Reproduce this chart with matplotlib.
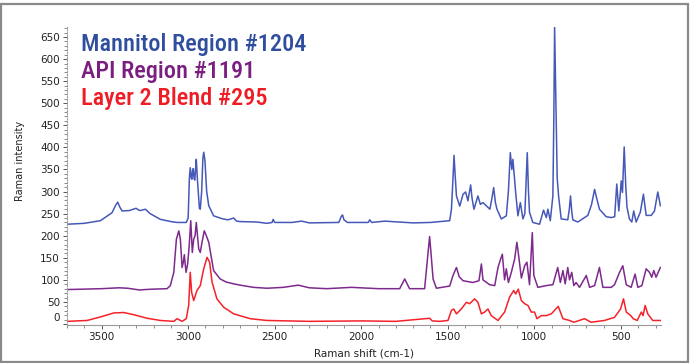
import matplotlib
matplotlib.use("Agg")
import matplotlib.pyplot as plt
from matplotlib import font_manager
from matplotlib.patches import Rectangle
from matplotlib.transforms import ScaledTranslation
from matplotlib.ticker import MultipleLocator

# Mannitol region spectrum (Raman shift cm-1, intensity)
mannitol_shift = [3700, 3600, 3507, 3440, 3420, 3407, 3395, 3382, 3340, 3301, 3285, 3276, 3247, 3220,
                  3160, 3100, 3064, 3011, 3000, 2993, 2988, 2982, 2978, 2974, 2970, 2966, 2962, 2957,
                  2953, 2947, 2935, 2930, 2922, 2915, 2910, 2903, 2893, 2881, 2853, 2800, 2770, 2737,
                  2720, 2700, 2603, 2545, 2515, 2509, 2500, 2400, 2345, 2300, 2130, 2115, 2108, 2100,
                  2080, 1960, 1951, 1940, 1864, 1700, 1600, 1489, 1479, 1470, 1464, 1458, 1450, 1431,
                  1412, 1397, 1390, 1384, 1368, 1360, 1349, 1326, 1312, 1297, 1268, 1257, 1245, 1235,
                  1225, 1216, 1191, 1162, 1150, 1139, 1130, 1124, 1115, 1108, 1095, 1081, 1066, 1055,
                  1048, 1041, 1034, 1028, 1009, 970, 947, 931, 922, 908, 893, 888, 883, 878, 874, 868,
                  860, 845, 807, 798, 791, 784, 778, 749, 691, 670, 652, 640, 624, 585, 556, 536, 524,
                  512, 498, 491, 481, 472, 465, 451, 437, 426, 412, 388, 370, 354, 325, 306, 287, 272]
mannitol_int = [226, 228, 234, 252, 268, 276, 265, 256, 257, 262, 258, 257, 260, 250,
                237, 232, 230, 230, 240, 330, 354, 330, 328, 350, 352, 330, 326, 350,
                373, 330, 262, 260, 300, 375, 389, 370, 300, 268, 245, 238, 236, 240,
                233, 232, 231, 228, 230, 237, 230, 230, 233, 229, 230, 244, 247, 236,
                230, 230, 236, 230, 233, 229, 230, 234, 260, 330, 382, 340, 290, 267,
                294, 299, 288, 279, 315, 285, 260, 290, 271, 275, 264, 260, 285, 309,
                275, 260, 238, 245, 300, 388, 350, 373, 330, 298, 245, 275, 238, 250,
                320, 388, 300, 253, 230, 226, 258, 241, 260, 234, 290, 450, 672, 560, 463, 330,
                290, 238, 236, 260, 290, 255, 236, 231, 246, 270, 305, 285, 260, 243, 241, 243, 317,
                256, 324, 298, 401, 313, 265, 238, 231, 256, 231, 253, 294, 246, 246, 256, 299, 268]

# API region spectrum
api_shift = [3700, 3600, 3500, 3400, 3350, 3280, 3250, 3200, 3122, 3103, 3083, 3068, 3054, 3045,
             3035, 3028, 3022, 3017, 3012, 3003, 2994, 2985, 2976, 2968, 2960, 2953, 2946, 2939,
             2930, 2920, 2907, 2895, 2881, 2853, 2815, 2780, 2737, 2700, 2622, 2545, 2450, 2364,
             2300, 2200, 2056, 1900, 1778, 1749, 1721, 1634, 1614, 1605, 1597, 1585, 1566, 1489,
             1470, 1450, 1434, 1412, 1355, 1320, 1306, 1297, 1258, 1229, 1210, 1195, 1185, 1172,
             1162, 1150, 1133, 1114, 1101, 1093, 1075, 1056, 1043, 1028, 1012, 1003, 980, 931,
             893, 865, 850, 835, 822, 807, 797, 784, 772, 759, 739, 700, 681, 652, 624, 604, 556,
             537, 508, 489, 469, 441, 418, 402, 379, 354, 335, 322, 310, 297, 272]
api_int = [78, 79, 80, 82, 81, 77, 78, 79, 80, 87, 117, 192, 211, 192,
           128, 140, 157, 135, 117, 136, 177, 234, 162, 192, 200, 230, 200, 170,
           162, 185, 211, 200, 185, 121, 102, 95, 91, 88, 83, 81, 83, 88,
           82, 80, 83, 80, 80, 102, 80, 80, 162, 198, 160, 102, 81, 86,
           110, 128, 107, 98, 94, 98, 136, 100, 89, 87, 128, 147, 158, 100,
           125, 94, 117, 147, 185, 162, 104, 132, 140, 89, 207, 110, 83, 87,
           89, 128, 94, 121, 91, 128, 100, 117, 87, 94, 83, 110, 83, 87, 128, 83, 83,
           89, 117, 132, 89, 83, 113, 83, 87, 125, 117, 106, 121, 106, 128]

# Layer 2 blend spectrum
blend_shift = [3700, 3584, 3507, 3430, 3372, 3314, 3237, 3160, 3083, 3064, 3035, 3011, 2997, 2988,
               2980, 2968, 2949, 2930, 2910, 2891, 2876, 2862, 2834, 2795, 2737, 2641, 2545, 2300,
               2000, 1800, 1605, 1590, 1547, 1499, 1479, 1466, 1450, 1422, 1393, 1374, 1345, 1326,
               1306, 1287, 1268, 1249, 1210, 1172, 1143, 1119, 1108, 1093, 1075, 1056, 1037, 1018,
               999, 985, 960, 931, 902, 862, 835, 797, 772, 710, 672, 595, 537, 502, 485, 469, 443,
               429, 406, 382, 372, 360, 345, 316, 272]
blend_int = [6, 8, 16, 25, 26, 21, 13, 8, 6, 12, 6, 12, 42, 117,
             72, 53, 76, 87, 125, 151, 140, 95, 57, 38, 23, 12, 8, 6,
             7, 6, 13, 7, 6, 8, 31, 34, 23, 34, 49, 46, 57, 49,
             23, 27, 34, 19, 8, 27, 61, 76, 68, 79, 53, 46, 42, 27,
             27, 12, 19, 19, 23, 40, 12, 8, 4, 12, 4, 8, 15, 34, 57, 27, 19,
             12, 8, 27, 19, 42, 23, 8, 8]

series_names = ["Mannitol Region #1204", "API Region #1191", "Layer 2 Blend #295"]
line_colors = ["#4658b8", "#7d2a8c", "#f5222a"]
text_colors = ["#2f4e9e", "#7a1f80", "#ee1c25"]

# pick a condensed face for the big labels if one is installed
names = {f.name for f in font_manager.fontManager.ttflist}
condensed = [n for n in ["Liberation Sans Narrow", "Roboto Condensed", "Open Sans Condensed",
                         "Noto Sans Display", "DejaVu Sans"] if n in names]

fig = plt.figure(figsize=(6.92, 3.63), dpi=100)
ax = fig.add_axes([0.0968, 0.105, 0.858, 0.821])

ax.plot(mannitol_shift, mannitol_int, color=line_colors[0], lw=1.1)
ax.plot(api_shift, api_int, color=line_colors[1], lw=1.1)
ax.plot(blend_shift, blend_int, color=line_colors[2], lw=1.1)

ax.set_xlim(3700, 270)
ax.set_ylim(-2, 673)
ax.xaxis.set_major_locator(MultipleLocator(500))
ax.xaxis.set_minor_locator(MultipleLocator(100))
ax.yaxis.set_major_locator(MultipleLocator(50))
ax.yaxis.set_minor_locator(MultipleLocator(10))

for s in ["top", "right"]:
    ax.spines[s].set_visible(False)
ax.spines["left"].set_color("#9a9a9a")
ax.spines["left"].set_linestyle((0, (1, 1.5)))
ax.spines["left"].set_linewidth(0.8)
ax.spines["bottom"].set_color("#9a9a9a")
ax.spines["bottom"].set_linewidth(0.8)

ax.tick_params(axis="both", which="major", labelsize=7.5, colors="#555555",
               labelcolor="#222222", length=3, width=0.7, pad=2)
ax.tick_params(axis="both", which="minor", colors="#777777", length=2, width=0.6)

# lift the "0" label a bit, as in the reference
zero_label = ax.yaxis.get_major_ticks()[1].label1
zero_label.set_transform(zero_label.get_transform()
                         + ScaledTranslation(0, 5 / 72, fig.dpi_scale_trans))

ax.set_xlabel("Raman shift (cm-1)", fontsize=7.5, color="#222222", labelpad=5)
ax.set_ylabel("Raman intensity", fontsize=7, color="#222222")
ax.yaxis.set_label_coords(-0.07, 0.55)

for i, name in enumerate(series_names):
    fig.text(0.117, 0.86 - i * 0.075, name, fontsize=17.5, color=text_colors[i],
             family=condensed, fontstretch="condensed", fontweight="medium", va="baseline")

fig.patches.append(Rectangle((0.002, 0.004), 0.992, 0.986, transform=fig.transFigure,
                             fill=False, edgecolor="#8a8a8a", lw=1.6))

fig.savefig("out.png", dpi=100)
